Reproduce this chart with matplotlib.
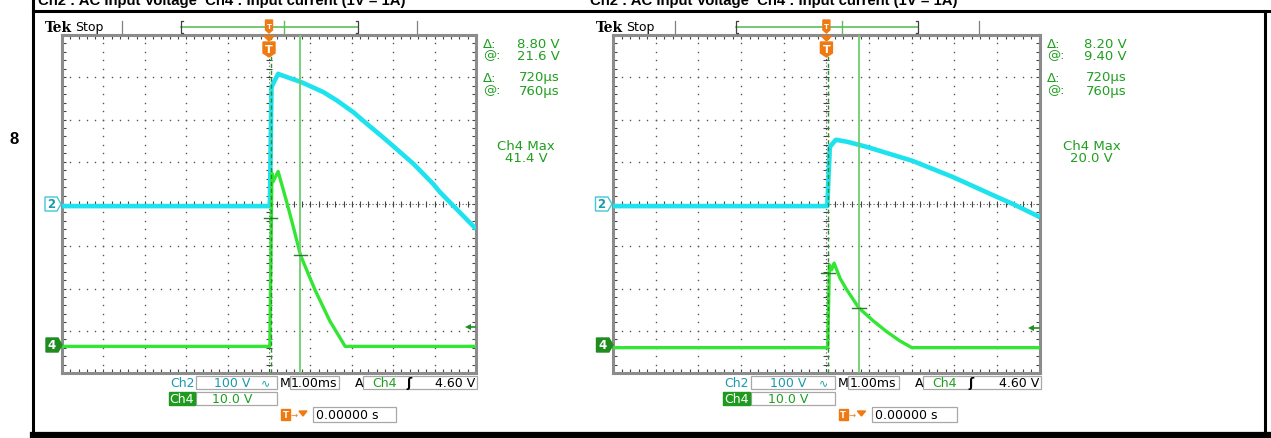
import numpy as np
import matplotlib.pyplot as plt
from matplotlib.patches import Polygon, Rectangle

W, H = 1271, 439

# ---- readings off the two scope captures (time in ms, volts) ----
# left capture
L_CH2_T = [-5.0, 0.02, 0.06, 0.22, 0.27, 0.79, 1.31, 1.64, 2.04, 2.36, 2.68, 3.00, 3.49, 3.97, 4.13, 5.0]
L_CH2_V = [-5, -5, 277, 308, 306, 288, 265, 245, 217, 190, 164, 137, 95, 47, 28, -59]
L_CH4_T = [-5.0, 0.02, 0.07, 0.10, 0.22, 0.43, 0.60, 0.76, 1.11, 1.47, 1.84, 5.0]
L_CH4_V = [0, 0, 41.0, 39.0, 41.4, 34.1, 27.8, 21.6, 13.4, 6.0, 0, 0]
# right capture
R_CH2_T = [-5.0, 0.02, 0.08, 0.22, 0.50, 0.95, 2.02, 2.96, 3.99, 4.37, 5.0]
R_CH2_V = [-5, -5, 135, 152, 147, 135, 102, 64, 17, 0, -31]
R_CH4_T = [-5.0, 0.03, 0.07, 0.12, 0.18, 0.32, 0.47, 0.76, 1.09, 1.41, 1.72, 2.0, 5.0]
R_CH4_V = [0, 0, 19.6, 18.4, 20.0, 16.4, 13.8, 9.4, 6.4, 3.8, 1.6, 0, 0]

# cursor readouts
CUR_T = [0.04, 0.76]
L_CUR_V = [30.4, 21.6]
R_CUR_V = [17.6, 9.4]
L_TEXT = ["8.80 V", "21.6 V", "720µs", "760µs", "41.4 V"]
R_TEXT = ["8.20 V", "9.40 V", "720µs", "760µs", "20.0 V"]
TITLE = "Ch2 : AC Input Voltage  Ch4 : Input current (1V = 1A)"

CH2_SCALE = 100.0   # V/div
CH4_SCALE = 10.0    # V/div
TRIG_LEVEL = 4.60

CYAN = "#1ee3ef"
GREEN = "#33e633"
RO_GREEN = "#1f9f1f"
TEAL = "#1a9aaa"
ORANGE = "#f07a12"

panels = [
    dict(x0=62, s=1.0, ch2=(L_CH2_T, L_CH2_V), ch4=(L_CH4_T, L_CH4_V), off4=-3.37,
         curv=L_CUR_V, txt=L_TEXT, tx=38),
    dict(x0=613, s=1.031, ch2=(R_CH2_T, R_CH2_V), ch4=(R_CH4_T, R_CH4_V), off4=-3.40,
         curv=R_CUR_V, txt=R_TEXT, tx=590),
]

fig = plt.figure(figsize=(W / 100, H / 100), dpi=100)
fig.patch.set_facecolor("white")

fg = fig.add_axes([0, 0, 1, 1], zorder=10)
fg.set_xlim(0, W)
fg.set_ylim(H, 0)
fg.axis("off")
fg.patch.set_alpha(0)

# table frame
fg.plot([33, 33], [0, H], color="black", lw=2.2)
fg.plot([33, W], [11.5, 11.5], color="black", lw=2.2)
fg.plot([33, W], [436, 436], color="black", lw=4.5)
fg.plot([1264.5, 1264.5], [11.5, H], color="black", lw=2.2)
fg.text(14, 140, "8", fontsize=12, fontweight="bold", family="Liberation Sans",
        ha="center", va="center")

gx = np.arange(-5, 5.01, 0.2)
gy = np.arange(-4, 4.01, 0.2)

for p in panels:
    X = lambda x, p=p: p["x0"] + (x - 62) * p["s"]
    w = 414 * p["s"]
    ax = fig.add_axes([p["x0"] / W, 1 - 374 / H, w / W, 338 / H], zorder=2)
    ax.set_xlim(-5, 5)
    ax.set_ylim(-4, 4)
    ax.set_xticks(gx)
    ax.set_yticks(gy)
    ax.tick_params(direction="in", length=3, width=0.8, color="#444444", top=True, right=True,
                   labelbottom=False, labelleft=False)
    for sp in ax.spines.values():
        sp.set_color("#8c8c8c")
        sp.set_linewidth(2.2)

    # graticule dots
    for k in range(-4, 5):
        if k != 0:
            ax.plot(np.full_like(gy, k), gy, ls="none", marker="s", ms=1.0, color="#555555", mew=0)
    for k in range(-3, 4):
        if k != 0:
            ax.plot(gx, np.full_like(gx, k), ls="none", marker="s", ms=1.0, color="#555555", mew=0)
    ax.axhline(0, color="#555555", lw=0.8, ls=(0, (1, 2)))
    ax.axvline(0, color="#555555", lw=0.8, ls=(0, (1, 2)))
    ax.plot(gx, np.zeros_like(gx), ls="none", marker="|", ms=4, mew=0.8, color="#444444")
    ax.plot(np.zeros_like(gy), gy, ls="none", marker="_", ms=4, mew=0.8, color="#444444")

    # traces
    t2, v2 = p["ch2"]
    t4, v4 = p["ch4"]
    ax.plot(t2, np.array(v2) / CH2_SCALE, color=CYAN, lw=3.3, solid_joinstyle="round",
            solid_capstyle="butt", zorder=3)
    ax.plot(t4, np.array(v4) / CH4_SCALE + p["off4"], color=GREEN, lw=2.4,
            solid_joinstyle="round", solid_capstyle="butt", zorder=3)

    # cursors
    ax.axvline(CUR_T[1], color="#6ccf6c", lw=1.3, zorder=4)
    ax.axvline(CUR_T[0], color="#2f8f2f", lw=1.0, ls=(0, (3, 2)), zorder=4)
    for ct, cv in zip(CUR_T, p["curv"]):
        yy = cv / CH4_SCALE + p["off4"]
        ax.plot([ct - 0.16, ct + 0.16], [yy, yy], color="#2a7d2a", lw=1.0, zorder=5)

    # trigger level arrow
    yt = TRIG_LEVEL / CH4_SCALE + p["off4"]
    ax.plot([4.8, 4.97], [yt, yt], color="#1f8f1f", lw=1.2, zorder=5)
    ax.plot([4.8], [yt], marker="<", ms=5, color="#1f8f1f", mew=0, zorder=5)

    # header text (cut off by top of page, as in the source)
    fg.text(p["tx"], 4.5, TITLE, fontsize=10.7, fontweight="bold", family="Liberation Sans",
            va="baseline", ha="left")

    # Tek Stop bar
    fg.text(X(45), 28, "Tek", fontsize=10, fontweight="bold", family="DejaVu Serif",
            va="center", ha="left")
    fg.text(X(75), 28, "Stop", fontsize=9, family="DejaVu Sans", va="center", ha="left")
    for xx in (X(122), X(417)):
        fg.plot([xx, xx], [22, 34], color="#808080", lw=0.9)
    fg.plot([X(181), X(358)], [28, 28], color="#5cbf5c", lw=1.2)
    fg.plot([X(181) + 2, X(181), X(181), X(181) + 2], [22, 22, 34, 34], color="#404040", lw=0.9)
    fg.plot([X(358) - 2, X(358), X(358), X(358) - 2], [22, 22, 34, 34], color="#404040", lw=0.9)
    fg.plot([X(284), X(284)], [22, 34], color="#5cbf5c", lw=1.0)
    tx = X(269)
    fg.add_patch(Polygon([[tx - 3.5, 21], [tx + 3.5, 21], [tx + 3.5, 31], [tx, 34], [tx - 3.5, 31]],
                         closed=True, color=ORANGE, zorder=11))
    fg.text(tx, 27, "T", fontsize=5, color="white", fontweight="bold", ha="center", va="center",
            zorder=12)
    # big trigger marker
    fg.add_patch(Polygon([[tx - 5, 37], [tx + 5, 37], [tx, 42]], closed=True, color=ORANGE, zorder=11))
    fg.add_patch(Polygon([[tx - 6, 43], [tx + 6, 43], [tx + 6, 54], [tx, 58], [tx - 6, 54]],
                         closed=True, color=ORANGE, zorder=11))
    fg.text(tx, 50, "T", fontsize=8, color="white", fontweight="bold", ha="center", va="center",
            zorder=12)

    # channel markers
    fg.add_patch(Polygon([[X(45), 198], [X(57), 198], [X(61), 205], [X(57), 212], [X(45), 212]],
                         closed=True, facecolor="white", edgecolor="#40c8d8", lw=1.0))
    fg.text(X(51), 205, "2", fontsize=8.5, fontweight="bold", color=TEAL, ha="center", va="center")
    fg.add_patch(Polygon([[X(46), 339], [X(58), 339], [X(62), 346], [X(58), 353], [X(46), 353]],
                         closed=True, facecolor="#1e8c1e", edgecolor="#1e8c1e", lw=1.0))
    fg.text(X(52), 346, "4", fontsize=8.5, fontweight="bold", color="white", ha="center", va="center")

    # cursor readouts
    txt = p["txt"]
    for yy, lab, val in zip([44, 56, 78, 91], ["Δ:", "@:", "Δ:", "@:"], txt[:4]):
        fg.text(X(483), yy, lab, fontsize=9.5, color=RO_GREEN, va="center", ha="left")
        fg.text(X(560), yy, val, fontsize=9.5, color=RO_GREEN, va="center", ha="right")
    fg.text(X(526), 147, "Ch4 Max", fontsize=9.5, color=RO_GREEN, va="center", ha="center")
    fg.text(X(526), 159, txt[4], fontsize=9.5, color=RO_GREEN, va="center", ha="center")

    # bottom status boxes
    def box(x1, x2, y1, y2):
        fg.add_patch(Rectangle((X(x1), y1), X(x2) - X(x1), y2 - y1, facecolor="white",
                               edgecolor="#a8a8a8", lw=0.9))

    box(196, 277, 377, 390)
    box(290, 339, 377, 390)
    box(363, 477, 377, 390)
    box(196, 277, 393, 406)
    box(313, 396, 408, 423)
    fg.text(X(170), 383.5, "Ch2", fontsize=9, color=TEAL, va="center", ha="left")
    fg.text(X(232), 383.5, "100 V", fontsize=9, color=TEAL, va="center", ha="center")
    fg.text(X(266), 383.5, "∿", fontsize=8, color=TEAL, va="center", ha="center")
    fg.text(X(280), 383.5, "M", fontsize=9, color="black", va="center", ha="left")
    fg.text(X(314), 383.5, "1.00ms", fontsize=9, color="black", va="center", ha="center")
    fg.text(X(355), 383.5, "A", fontsize=9, color="black", va="center", ha="left")
    fg.text(X(372), 383.5, "Ch4", fontsize=9, color=RO_GREEN, va="center", ha="left")
    fg.text(X(409), 383.5, "ʃ", fontsize=9, color="black", fontweight="bold", va="center", ha="center")
    fg.text(X(475), 383.5, "4.60 V", fontsize=9, color="black", va="center", ha="right")
    fg.add_patch(Rectangle((X(169), 393), X(195) - X(169), 13, color="#1e9a1e"))
    fg.text(X(182), 399.5, "Ch4", fontsize=9, color="white", va="center", ha="center")
    fg.text(X(232), 399.5, "10.0 V", fontsize=9, color=RO_GREEN, va="center", ha="center")
    fg.add_patch(Rectangle((X(281), 410), 9, 11, color=ORANGE))
    fg.text(X(281) + 4.5, 415.5, "T", fontsize=6, color="white", fontweight="bold",
            va="center", ha="center")
    fg.text(X(294), 415.5, "→", fontsize=6, color=ORANGE, va="center", ha="center")
    fg.add_patch(Polygon([[X(299), 412], [X(307), 412], [X(303), 417]], closed=True, color=ORANGE))
    fg.text(X(316), 415.5, "0.00000 s", fontsize=9, color="black", va="center", ha="left")

fig.savefig("out.png", dpi=100)
